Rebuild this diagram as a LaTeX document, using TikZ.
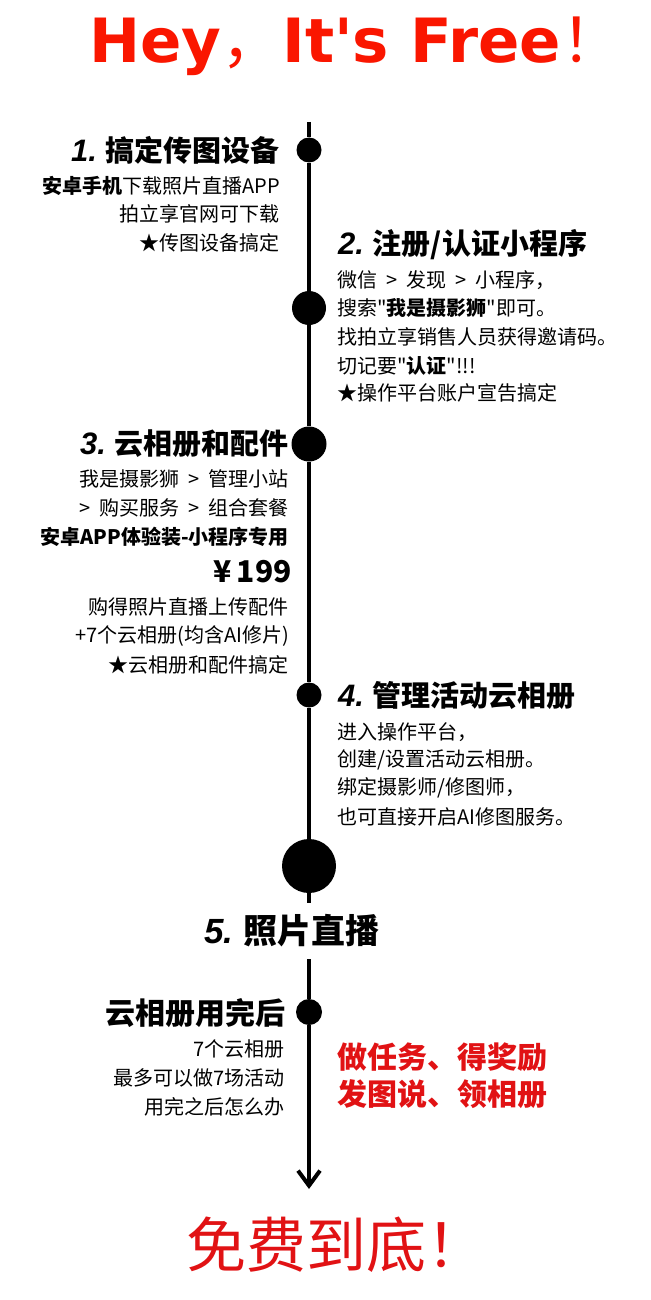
\documentclass[tikz,border=0pt]{standalone}
\usepackage{fontspec}
\setmainfont{Noto Sans CJK SC}
\newfontfamily\plaincjk{Noto Sans CJK SC}
\newfontfamily\titlefont{DejaVu Sans}
\newfontfamily\numfont{Liberation Sans}
\usetikzlibrary{arrows.meta}
\definecolor{titlered}{RGB}{250,22,0}
\definecolor{taskred}{RGB}{225,18,20}
\tikzset{
  bead/.style={circle, fill=black, inner sep=0pt},
  tl/.style={line width=4.5pt, color=black},
  head/.style={font=\fontsize{29}{29}\selectfont\bfseries, inner sep=0pt},
  txt/.style={font=\fontsize{20}{20}\selectfont, inner sep=0pt},
  task/.style={font=\fontsize{30}{30}\selectfont\bfseries, color=taskred, inner sep=0pt, anchor=west}
}
\newcommand{\stepno}[1]{{\numfont\bfseries\itshape\fontsize{31}{31}\selectfont #1}}
\newcommand{\dq}{{\plaincjk\mdseries"}}
\newcommand{\nxt}{\hspace{0.45em}>\hspace{0.45em}}

\begin{document}
\begin{tikzpicture}[x=1pt, y=-1pt]
		%%%%% START %%%%%
		\useasboundingbox[fill=white] (0, 0) rectangle (650, 1300);
		
		\node[anchor=base west, inner sep=0pt, color=titlered, font=\fontsize{61}{61}\selectfont] (title) at (89, 63) {\titlefont\bfseries Hey{\mdseries\rmfamily ，}It's Free{\mdseries\rmfamily ！}};
		
		\coordinate (top) at (309, 122);
		\node[bead, minimum size=25pt] (d1) at (309, 150) {};
		\node[bead, minimum size=34pt] (d2) at (309, 308) {};
		\node[bead, minimum size=35pt] (d3) at (309, 444) {};
		\node[bead, minimum size=25pt] (d4) at (309, 695) {};
		\node[bead, minimum size=54pt] (d5) at (309, 866) {};
		\node[bead, minimum size=26pt] (d6) at (309, 1012) {};
		\coordinate (end) at (309, 1189);
		
		\node[head, font=\fontsize{34}{34}\selectfont\bfseries, minimum height=56pt] (h5) at (292, 931) {\stepno{\fontsize{35}{35}\selectfont 5.} 照片直播};
		
		\draw[tl] (top) -- (d1) -- (d2) -- (d3) -- (d4) -- (d5);
		\draw[tl] (d5) -- (d5 |- h5.north);
		\draw[tl] (d5 |- h5.south) -- (d6);
		\draw[tl, -{Straight Barb[length=15pt, width=22pt, line width=4pt]}] (d6) -- (end);
		
		\node[head, anchor=east] (h1) at (280, 150) {\stepno{1.} 搞定传图设备};
		\node[txt, anchor=east] (b1a) at (280, 186) {{\bfseries 安卓手机}下载照片直播APP};
		\node[txt, anchor=east] (b1b) at (280, 214) {拍立享官网可下载};
		\node[txt, anchor=east] (b1c) at (280, 243) {★传图设备搞定};
		
		\node[head, anchor=west] (h2) at (338, 245) {\stepno{2.} 注册/认证小程序};
		\node[txt, anchor=west] (b2a) at (337, 280) {微信\nxt 发现\nxt 小程序，};
		\node[txt, anchor=west] (b2b) at (337, 308) {搜索\dq{\bfseries 我是摄影狮}\dq 即可。};
		\node[txt, anchor=west] (b2c) at (337, 337) {找拍立享销售人员获得邀请码。};
		\node[txt, anchor=west] (b2d) at (337, 366) {切记要\dq{\bfseries 认证}\dq!!!};
		\node[txt, anchor=west] (b2e) at (337, 393) {★操作平台账户宣告搞定};
		
		\node[head, anchor=east] (h3) at (289, 444) {\stepno{3.} 云相册和配件};
		\node[txt, anchor=east] (b3a) at (289, 479) {我是摄影狮\nxt 管理小站};
		\node[txt, anchor=east] (b3b) at (289, 508) {>\hspace{0.45em}购买服务\nxt 组合套餐};
		\node[txt, anchor=east, font=\fontsize{20}{20}\selectfont\bfseries] (b3c) at (289, 537) {安卓APP体验装-小程序专用};
		\node[head, anchor=east, font=\fontsize{30}{30}\selectfont\bfseries] (b3d) at (292, 572) {¥\,199};
		\node[txt, anchor=east] (b3e) at (289, 607) {购得照片直播上传配件};
		\node[txt, anchor=east] (b3f) at (289, 636) {+7个云相册(均含AI修片)};
		\node[txt, anchor=east] (b3g) at (289, 665) {★云相册和配件搞定};
		
		\node[head, anchor=west] (h4) at (338, 695) {\stepno{4.} 管理活动云相册};
		\node[txt, anchor=west] (b4a) at (337, 732) {进入操作平台，};
		\node[txt, anchor=west] (b4b) at (337, 760) {创建/设置活动云相册。};
		\node[txt, anchor=west] (b4c) at (337, 788) {绑定摄影师/修图师，};
		\node[txt, anchor=west] (b4d) at (337, 817) {也可直接开启AI修图服务。};
		
		\node[head, anchor=east, font=\fontsize{30}{30}\selectfont\bfseries] (h6) at (286, 1013) {云相册用完后};
		\node[txt, anchor=east] (b6a) at (285, 1049) {7个云相册};
		\node[txt, anchor=east] (b6b) at (285, 1078) {最多可以做7场活动};
		\node[txt, anchor=east] (b6c) at (285, 1107) {用完之后怎么办};
		
		\node[task] (r1) at (337, 1057) {做任务、得奖励};
		\node[task] (r2) at (337, 1094) {发图说、领相册};
		
		\node[inner sep=0pt, color=taskred, font=\fontsize{60}{60}\selectfont] (free) at (336, 1245) {免费到底！};
		
		%%%%% END %%%%%
	\end{tikzpicture}
\end{document}
